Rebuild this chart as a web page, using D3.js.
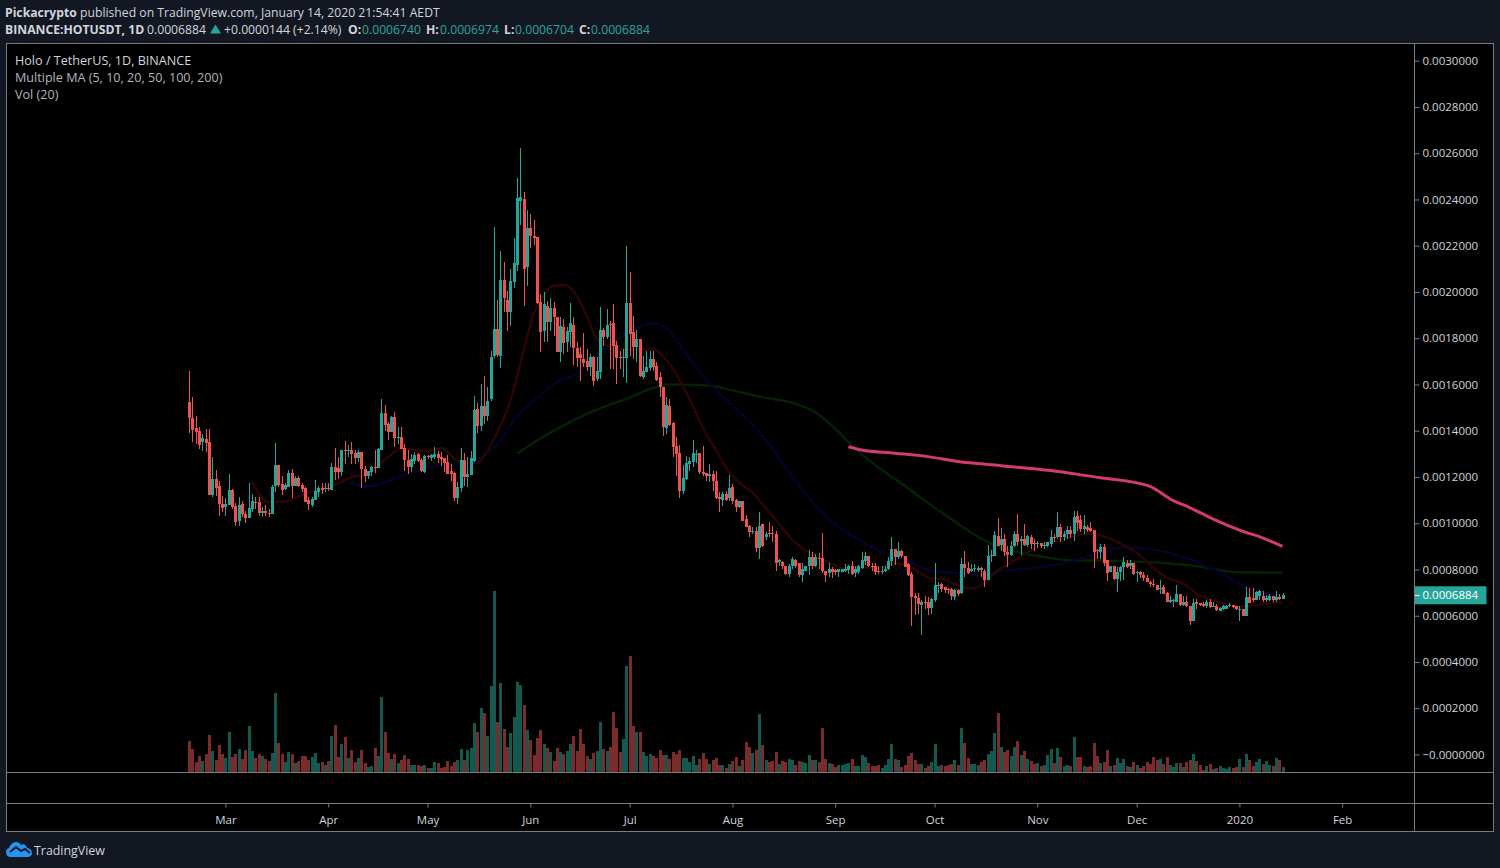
<!DOCTYPE html>
<html>
<head>
<meta charset="utf-8">
<title>HOTUSDT</title>
<script src="https://cdnjs.cloudflare.com/ajax/libs/d3/7.8.5/d3.min.js"></script>
<style>
  html, body { margin: 0; padding: 0; background: #131722; overflow: hidden; }
  svg { display: block; }
  text { font-family: "Open Sans", sans-serif; }
</style>
</head>
<body>
<svg class="chart"></svg>
<script>
// all prices are in millionths of a USDT, volume is in relative units (no axis for it)
var opens = [
1526,1457,1413,1400,1350,1366,1353,1124,1193,1163,
1085,1072,1080,1145,1076,1011,1085,1042,1024,1063,
1093,1093,1046,1055,1046,1042,1163,1253,1171,1150,
1158,1219,1163,1197,1167,1154,1102,1080,1102,1137,
1154,1148,1154,1145,1245,1240,1223,1318,1315,1318,
1305,1284,1310,1236,1206,1223,1245,1240,1318,1478,
1431,1396,1461,1370,1374,1325,1275,1245,1271,1301,
1275,1223,1292,1284,1288,1301,1285,1284,1266,1227,
1219,1111,1154,1275,1201,1210,1271,1495,1422,1509,
1462,1539,1725,1841,1725,2053,1967,1915,2042,2118,
2395,2403,2109,2278,2243,2239,1958,1833,1941,1869,
1932,1893,1739,1847,1782,1828,1858,1758,1732,1712,
1700,1677,1720,1624,1653,1835,1804,1861,1864,1772,
1717,1713,1714,1951,1828,1763,1797,1634,1655,1671,
1710,1681,1634,1588,1412,1509,1435,1334,1305,1141,
1190,1258,1266,1298,1305,1223,1219,1206,1215,1184,
1112,1102,1125,1108,1158,1102,1070,1094,1020,990,
962,968,895,998,939,959,959,955,834,834,
815,781,813,843,830,774,795,813,856,817,
851,851,795,784,800,798,788,791,792,798,
817,784,788,808,838,860,813,817,795,789,
795,804,838,890,856,882,860,825,781,687,
675,648,658,658,632,668,730,739,723,717,
716,681,713,700,825,808,795,801,799,808,
795,756,860,860,946,905,933,877,864,903,
955,922,933,906,942,913,909,915,902,903,
910,942,939,985,939,955,972,955,1033,1015,
977,985,981,972,885,875,896,839,790,817,
759,791,810,830,813,826,788,788,778,765,
748,738,731,715,723,699,661,663,661,694,
648,661,640,579,658,657,651,640,661,640,
644,622,630,631,640,646,640,628,630,601,
683,677,670,684,687,666,666,687,666,682,674];
var closes = [
1454,1405,1396,1340,1369,1348,1124,1193,1154,1085,
1068,1085,1145,1069,1007,1080,1042,1024,1068,1098,
1091,1046,1055,1046,1042,1158,1253,1167,1145,1167,
1219,1163,1197,1163,1150,1093,1085,1106,1141,1154,
1145,1154,1148,1245,1223,1223,1318,1315,1318,1301,
1284,1310,1236,1206,1227,1245,1242,1323,1478,1423,
1396,1461,1370,1373,1323,1275,1245,1279,1297,1271,
1227,1292,1289,1297,1301,1282,1276,1262,1214,1214,
1111,1158,1275,1201,1214,1284,1491,1422,1509,1462,
1530,1720,1841,1727,2053,1972,1912,2049,2127,2408,
2412,2101,2278,2243,2235,1954,1825,1949,1869,1932,
1893,1739,1854,1778,1830,1864,1756,1714,1714,1694,
1674,1720,1616,1660,1835,1804,1859,1856,1768,1714,
1714,1717,1951,1818,1763,1797,1638,1660,1677,1710,
1674,1619,1588,1418,1513,1426,1331,1300,1141,1197,
1262,1271,1305,1301,1223,1213,1206,1215,1184,1108,
1105,1128,1102,1154,1098,1072,1094,1011,985,960,
968,895,990,903,955,957,957,830,843,813,
781,817,847,817,774,800,813,856,817,856,
847,795,778,804,791,789,800,802,802,817,
781,804,817,843,860,813,810,787,787,795,
804,838,890,856,882,860,812,778,683,675,
651,661,654,632,674,732,734,717,713,713,
687,713,696,825,805,786,802,805,805,796,
756,860,864,951,903,933,877,863,903,955,
920,933,906,946,910,909,915,903,906,920,
941,938,985,942,955,972,955,1028,1002,977,
990,972,968,877,878,899,829,784,814,759,
791,810,834,810,830,781,791,774,764,748,
738,731,713,718,694,660,666,669,696,648,
661,640,579,657,651,648,640,661,637,643,
625,635,640,644,648,637,630,631,601,679,
657,666,702,705,666,676,687,666,683,671,688.4];
var highs = [
1660,1547,1465,1418,1386,1408,1408,1288,1232,1184,
1119,1111,1214,1150,1089,1115,1098,1055,1176,1127,
1115,1115,1072,1080,1063,1167,1348,1253,1206,1176,
1232,1236,1206,1206,1176,1158,1115,1115,1189,1163,
1176,1176,1176,1262,1327,1285,1318,1357,1340,1353,
1318,1318,1310,1249,1227,1249,1318,1327,1539,1513,
1439,1465,1483,1418,1418,1343,1318,1301,1310,1305,
1284,1297,1297,1301,1331,1314,1307,1284,1297,1256,
1223,1180,1327,1305,1288,1311,1552,1521,1604,1638,
1587,1746,2282,1967,2178,2131,2006,2099,2232,2494,
2624,2434,2356,2338,2312,2239,1993,2001,1962,1975,
1958,1893,1890,1883,1850,1952,1890,1782,1761,1823,
1753,1732,1724,1719,1933,1845,1926,1876,1949,1790,
1746,1753,2200,2088,1897,1835,1797,1724,1746,1746,
1746,1696,1653,1588,1547,1537,1439,1372,1340,1253,
1292,1285,1362,1318,1305,1336,1219,1256,1228,1228,
1134,1134,1141,1210,1170,1105,1094,1094,1037,994,
983,985,1050,998,964,1007,990,968,847,838,
817,824,853,847,830,830,817,886,877,867,
870,959,795,830,810,802,802,802,825,820,
838,813,820,877,877,860,830,830,813,813,
817,856,942,890,921,886,860,828,788,698,
698,668,684,680,675,830,745,742,726,722,
719,716,716,851,881,834,824,822,817,812,
802,906,886,968,1023,978,953,903,925,968,
1041,946,998,951,951,932,922,915,917,920,
972,954,1050,997,968,990,990,1054,1054,1037,
1037,992,1007,972,889,911,911,841,814,817,
810,817,853,839,839,826,795,792,788,774,
752,759,731,755,733,702,687,673,731,694,
687,687,640,671,671,657,658,669,673,658,
651,637,648,648,654,648,643,644,630,723,
720,719,709,712,709,690,692,687,709,694,697.4];
var lows = [
1389,1350,1343,1320,1314,1307,1124,1112,1119,1030,
1047,1033,1080,1062,987,987,1026,1000,1024,1047,
1062,1030,1026,1033,1026,1042,1137,1155,1122,1144,
1158,1111,1163,1155,1134,1091,1059,1072,1102,1115,
1127,1137,1138,1145,1189,1193,1206,1256,1285,1256,
1256,1263,1154,1180,1193,1206,1219,1240,1318,1400,
1361,1396,1331,1343,1323,1227,1213,1223,1256,1266,
1220,1216,1278,1271,1278,1259,1249,1223,1214,1184,
1095,1085,1137,1163,1158,1210,1266,1390,1400,1430,
1440,1530,1714,1720,1670,1912,1830,1854,2016,2089,
2291,1938,2024,2189,2204,1946,1739,1785,1782,1833,
1811,1739,1699,1732,1740,1763,1686,1674,1616,1674,
1660,1638,1595,1616,1624,1768,1797,1665,1667,1602,
1667,1631,1605,1725,1710,1696,1631,1624,1652,1660,
1660,1616,1545,1379,1386,1422,1288,1206,1108,1127,
1187,1228,1245,1259,1213,1206,1184,1177,1141,1105,
1047,1076,1098,1098,1083,1047,1065,1011,983,939,
954,875,847,899,929,939,918,795,813,802,
774,769,802,807,767,748,792,778,802,810,
802,784,748,767,764,774,769,788,788,781,
774,769,781,802,820,810,792,774,781,781,
787,798,817,820,846,850,809,773,557,605,
608,518,629,605,609,661,698,701,697,694,
670,670,684,694,769,779,788,788,789,766,
726,756,831,860,903,881,860,812,860,896,
903,864,903,899,889,879,892,892,889,896,
896,917,932,917,925,932,936,925,968,961,
955,964,964,805,846,846,817,752,787,755,
702,752,755,805,803,778,748,764,752,745,
726,723,712,694,692,658,656,637,658,640,
640,637,562,576,630,640,637,634,634,637,
620,620,625,630,637,634,625,576,598,601,
654,658,666,669,658,661,663,658,658,669,670.4];
var volumes = [
31,23,10,16,11,18,37,21,12,27,18,14,40,15,18,23,13,22,46,21,
14,18,16,13,11,19,79,29,18,10,20,18,9,11,16,16,12,15,19,9,
10,7,11,36,47,15,28,35,14,22,10,14,22,9,5,6,24,16,75,40,
19,13,18,9,12,17,13,7,7,7,6,7,4,4,10,9,4,5,11,6,
10,12,23,12,22,24,49,40,64,59,36,86,181,50,89,43,25,39,55,90,
87,67,42,32,17,34,42,28,24,20,11,24,20,18,21,28,36,21,43,28,
16,13,19,21,50,23,21,25,60,44,20,33,106,116,46,40,40,20,16,18,
16,14,22,17,17,13,20,18,22,14,14,10,16,7,13,19,13,8,12,14,
7,7,4,8,11,15,6,12,30,25,19,22,58,27,12,10,11,20,8,11,
10,13,12,7,11,10,9,17,12,12,10,44,13,9,8,5,7,7,8,9,
13,6,6,17,15,9,6,6,7,4,7,13,28,13,12,5,7,16,19,12,
8,8,4,6,10,28,6,7,6,7,8,12,7,44,29,14,8,8,7,10,
12,18,21,39,59,25,20,22,16,25,31,17,21,13,11,8,9,6,7,17,
23,9,24,15,6,7,6,35,15,15,6,5,6,29,16,9,10,22,6,7,
14,9,13,6,5,10,7,4,6,10,8,15,12,13,8,15,7,5,9,9,
5,10,12,18,11,7,2,6,8,3,4,6,4,3,5,4,5,13,5,18,
12,6,10,13,8,11,7,6,14,12,5];

// moving averages, day index (0 = first candle) and price
var ma20Days = [19,24,29,34,39,45,49,54,60,64,72,76,81,86,88,91,94,97,101,104,107,110,113,116,120,123,127,132,140,145,151,156,160,162,166,170,173,178,183,187,193,198,203,208,213,217,221,224,227,232,236,239,244,249,253,258,263,268,272,277,281,286,291,295,300,305,311,317,321,325,330];
var ma20Values = [1181,1091,1094,1120,1150,1172,1199,1215,1285,1324,1311,1326,1271,1258,1271,1336,1422,1530,1746,1906,1984,2027,2030,2006,1898,1798,1764,1751,1751,1690,1539,1388,1293,1241,1176,1133,1085,999,916,873,830,804,808,808,826,817,782,761,761,731,718,731,795,839,873,912,925,947,955,938,912,873,808,765,739,687,657,640,644,653,658];
var ma50Days = [48,54,57,63,67,75,81,86,88,94,98,104,112,116,125,129,135,141,145,150,155,163,173,180,187,193,201,208,216,224,232,240,244,250,257,265,272,277,283,291,300,310,318,330];
var ma50Values = [1177,1159,1167,1199,1220,1249,1257,1264,1284,1357,1444,1530,1617,1638,1746,1790,1847,1865,1829,1734,1638,1523,1379,1242,1112,1020,939,882,843,795,784,774,792,800,810,831,860,882,896,886,853,795,731,680];
var ma100Days = [99,106,113,121,127,133,138,145,157,163,173,183,189,195,201,208,215,222,232,239,245,252,259,267,275,285,295,305,316,330];
var ma100Values = [1301,1366,1422,1478,1513,1543,1574,1600,1595,1578,1545,1517,1480,1409,1323,1242,1172,1098,999,934,896,869,852,839,839,834,827,813,788,787];
var ma200Days = [199,203,213,223,232,245,260,275,284,290,297,302,310,318,323,330];
var ma200Values = [1331,1317,1303,1288,1267,1249,1228,1197,1180,1159,1098,1068,1012,965,942,900];

var priceTicks = [3000,2800,2600,2400,2200,2000,1800,1600,1400,1200,1000,800,600,400,200,0];
var priceLabels = ["0.0030000","0.0028000","0.0026000","0.0024000","0.0022000","0.0020000","0.0018000","0.0016000","0.0014000","0.0012000","0.0010000","0.0008000","0.0006000","0.0004000","0.0002000","\u22120.0000000"];
var monthDates = ["2019-03-01","2019-04-01","2019-05-01","2019-06-01","2019-07-01","2019-08-01","2019-09-01","2019-10-01","2019-11-01","2019-12-01","2020-01-01","2020-02-01"];
var monthLabels = ["Mar","Apr","May","Jun","Jul","Aug","Sep","Oct","Nov","Dec","2020","Feb"];
var firstDay = new Date(Date.UTC(2019, 1, 18));
var lastDay = new Date(Date.UTC(2020, 0, 14));
var lastPrice = 688.4;

var w = 1500, h = 868;
var frame = {left: 6.5, right: 1493.5, top: 43.5, axisX: 1414.5, paneBottom: 772.5, timeBottom: 803.5, bottom: 831.5};
var upColor = "#26a69a", downColor = "#ef5350";
var upVol = "#145850", downVol = "#7a2b2b";
var lineColor = "#787b80", textColor = "#d1d4dc";

var svg = d3.select(".chart").attr("width", w).attr("height", h);
svg.append("rect").attr("width", w).attr("height", h).attr("fill", "#131722");
svg.append("rect")
  .attr("x", frame.left).attr("y", frame.top)
  .attr("width", frame.right - frame.left).attr("height", frame.bottom - frame.top)
  .attr("fill", "#000");

var x = d3.scaleUtc().domain([firstDay, lastDay]).range([189, 1282.5]);
var y = d3.scaleLinear().domain([0, 3000]).range([754.5, 60.7]);
var yVol = d3.scaleLinear().domain([0, 181]).range([772, 591]);

function dayX(i) {
  return x(d3.utcDay.offset(firstDay, i));
}
function isUp(i) {
  return closes[i] >= opens[i];
}

var days = d3.range(opens.length);

// volume
svg.append("g").attr("shape-rendering", "crispEdges").selectAll("rect")
  .data(days).enter().append("rect")
  .attr("x", function(i) { return Math.round(dayX(i)) - 1; })
  .attr("width", 3)
  .attr("y", function(i) { return yVol(volumes[i]); })
  .attr("height", function(i) { return yVol(0) - yVol(volumes[i]); })
  .attr("fill", function(i) { return isUp(i) ? upVol : downVol; });

// moving averages
function drawMA(dayList, valueList, color, width) {
  var line = d3.line()
    .x(function(i) { return dayX(dayList[i]); })
    .y(function(i) { return y(valueList[i]); })
    .curve(d3.curveMonotoneX);
  svg.append("path")
    .attr("d", line(d3.range(dayList.length)))
    .attr("fill", "none")
    .attr("stroke", color)
    .attr("stroke-width", width);
}
drawMA(ma100Days, ma100Values, "#042204", 2.4);
drawMA(ma50Days, ma50Values, "#04042a", 2.4);
drawMA(ma20Days, ma20Values, "#2e0404", 2.4);
drawMA(ma200Days, ma200Values, "#d23a74", 3);

// candles
var candles = svg.append("g").attr("shape-rendering", "crispEdges");
candles.selectAll(".wick")
  .data(days).enter().append("rect").attr("class", "wick")
  .attr("x", function(i) { return Math.round(dayX(i)); })
  .attr("width", 1)
  .attr("y", function(i) { return y(highs[i]); })
  .attr("height", function(i) { return y(lows[i]) - y(highs[i]); })
  .attr("fill", function(i) { return isUp(i) ? upColor : downColor; });
candles.selectAll(".body")
  .data(days).enter().append("rect").attr("class", "body")
  .attr("x", function(i) { return Math.round(dayX(i)) - 1; })
  .attr("width", 3)
  .attr("y", function(i) { return y(Math.max(opens[i], closes[i])); })
  .attr("height", function(i) { return Math.max(1, Math.abs(y(opens[i]) - y(closes[i]))); })
  .attr("fill", function(i) { return isUp(i) ? upColor : downColor; });

// price axis
var yAxis = d3.axisRight(y)
  .tickValues(priceTicks)
  .tickSize(5)
  .tickPadding(3)
  .tickFormat(function(d, i) { return priceLabels[i]; });
var yg = svg.append("g").attr("class", "y-axis").attr("transform", "translate(" + frame.axisX + ",0)").call(yAxis);
yg.select(".domain").remove();
yg.selectAll("line").attr("stroke", lineColor);
yg.selectAll("text").attr("fill", textColor).style("font-size", "11.5px").style("font-family", '"Open Sans", sans-serif');

// last price label
svg.append("rect")
  .attr("x", frame.axisX).attr("y", y(lastPrice) - 9)
  .attr("width", 72).attr("height", 18)
  .attr("fill", upColor);
svg.append("line")
  .attr("x1", frame.axisX).attr("x2", frame.axisX + 5)
  .attr("y1", Math.round(y(lastPrice)) + 0.5).attr("y2", Math.round(y(lastPrice)) + 0.5)
  .attr("stroke", "#fff");
svg.append("text")
  .attr("x", frame.axisX + 8).attr("y", y(lastPrice) + 4)
  .attr("fill", "#fff").style("font-size", "11.5px")
  .text("0.0006884");

// time axis
var monthParsed = monthDates.map(function(d) { return new Date(d + "T00:00:00Z"); });
var xAxis = d3.axisBottom(x)
  .tickValues(monthParsed)
  .tickSize(4)
  .tickPadding(8)
  .tickFormat(function(d, i) { return monthLabels[i]; });
var xg = svg.append("g").attr("class", "x-axis").attr("transform", "translate(0," + frame.timeBottom + ")").call(xAxis);
xg.select(".domain").remove();
xg.selectAll("line").attr("stroke", lineColor);
xg.selectAll("text").attr("fill", textColor).style("font-size", "11.5px").style("font-family", '"Open Sans", sans-serif');

// frame lines
var borders = svg.append("g").attr("stroke", lineColor).attr("fill", "none").attr("shape-rendering", "crispEdges");
borders.append("rect")
  .attr("x", frame.left).attr("y", frame.top)
  .attr("width", frame.right - frame.left).attr("height", frame.bottom - frame.top);
borders.append("line").attr("x1", frame.axisX).attr("x2", frame.axisX).attr("y1", frame.top).attr("y2", frame.bottom);
borders.append("line").attr("x1", frame.left).attr("x2", frame.right).attr("y1", frame.paneBottom).attr("y2", frame.paneBottom);
borders.append("line").attr("x1", frame.left).attr("x2", frame.right).attr("y1", frame.timeBottom).attr("y2", frame.timeBottom);

// header
function headText(px, py, str, color, bold) {
  svg.append("text")
    .attr("x", px).attr("y", py)
    .attr("fill", color)
    .attr("font-weight", bold ? "bold" : "normal")
    .style("font-size", "12.2px")
    .text(str);
}
var head1 = svg.append("text").attr("x", 5).attr("y", 17).attr("fill", textColor).style("font-size", "12.2px");
head1.append("tspan").attr("font-weight", "bold").text("Pickacrypto");
head1.append("tspan").text(" published on TradingView.com, January 14, 2020 21:54:41 AEDT");

headText(5, 34, "BINANCE:HOTUSDT, 1D", textColor, true);
headText(147, 34, "0.0006884", textColor, false);
svg.append("path").attr("d", "M210 33.5h11l-5.5-9z").attr("fill", upColor);
headText(224, 34, "+0.0000144 (+2.14%)", textColor, false);
headText(348, 34, "O:", textColor, true);
headText(362, 34, "0.0006740", upColor, false);
headText(426, 34, "H:", textColor, true);
headText(440, 34, "0.0006974", upColor, false);
headText(504, 34, "L:", textColor, true);
headText(515, 34, "0.0006704", upColor, false);
headText(579, 34, "C:", textColor, true);
headText(591, 34, "0.0006884", upColor, false);

// pane legend
svg.append("text").attr("x", 15).attr("y", 65).attr("fill", textColor).style("font-size", "12.6px").text("Holo / TetherUS, 1D, BINANCE");
svg.append("text").attr("x", 15).attr("y", 82).attr("fill", "#b2b5be").style("font-size", "12.6px").text("Multiple MA (5, 10, 20, 50, 100, 200)");
svg.append("text").attr("x", 15).attr("y", 99).attr("fill", "#b2b5be").style("font-size", "12.6px").text("Vol (20)");

// logo
svg.append("path")
  .attr("d", "M11 857c-3 0-5-2-5-5 0-2 1-3 3-4 1-3 4-6 7-6 2 0 4 1 5 3 1-1 3-1 4 0 1 1 2 2 2 3 3 0 5 3 5 5 0 2-2 4-4 4z")
  .attr("fill", "#2196f3");
svg.append("path")
  .attr("d", "M10 852l6-5 5 4 4-2 5 4")
  .attr("fill", "none").attr("stroke", "#131722").attr("stroke-width", 2);
svg.append("text").attr("x", 34).attr("y", 855).attr("fill", textColor).style("font-size", "12.4px").text("TradingView");
</script>
</body>
</html>
